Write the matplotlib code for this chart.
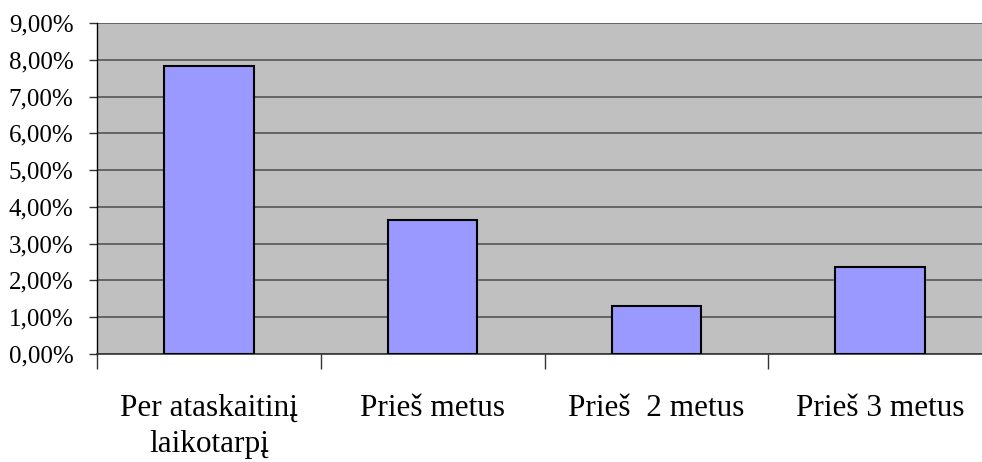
import matplotlib
matplotlib.use('Agg')
import matplotlib.pyplot as plt
from matplotlib.ticker import FuncFormatter, FixedLocator

categories = ['Per ataskaitinį\nlaikotarpį', 'Prieš metus', 'Prieš  2 metus', 'Prieš 3 metus']
values = [7.82, 3.65, 1.30, 2.37]  # procentai
y_ticks = [0, 1, 2, 3, 4, 5, 6, 7, 8, 9]

plt.rcParams['font.family'] = ['Liberation Serif', 'DejaVu Serif']

fig = plt.figure(figsize=(9.82, 4.62), dpi=100)
ax = fig.add_axes([0.0988, 0.2338, 0.9114, 0.7164])
ax.set_facecolor('#C0C0C0')

x = range(len(categories))
ax.bar(x, values, width=0.40, color='#9999FF', edgecolor='black', linewidth=1.5, zorder=3)

ax.set_xlim(-0.5, len(categories) - 0.5)
ax.set_ylim(0, 9)
ax.set_yticks(y_ticks)
ax.yaxis.set_major_formatter(FuncFormatter(lambda v, p: ('%.2f%%' % v).replace('.', ',')))
ax.grid(axis='y', color='#555555', linewidth=1.2, zorder=1)

# category labels centred, ticks between categories
ax.set_xticks(list(x))
ax.set_xticklabels(categories, fontsize=22.5, linespacing=1.3)
ax.tick_params(axis='x', which='major', length=0, pad=29)
ax.xaxis.set_minor_locator(FixedLocator([i - 0.5 for i in range(len(categories) + 1)]))
ax.tick_params(axis='x', which='minor', length=11, width=1, color='#333333', direction='out')
ax.tick_params(axis='y', labelsize=18, length=6, width=1, color='#333333', pad=11)

for s in ['top', 'right']:
    ax.spines[s].set_visible(False)
ax.spines['left'].set_color('black')
ax.spines['left'].set_linewidth(1)
ax.spines['bottom'].set_color('#333333')
ax.spines['bottom'].set_linewidth(1.2)

fig.savefig('out.png', dpi=100)
